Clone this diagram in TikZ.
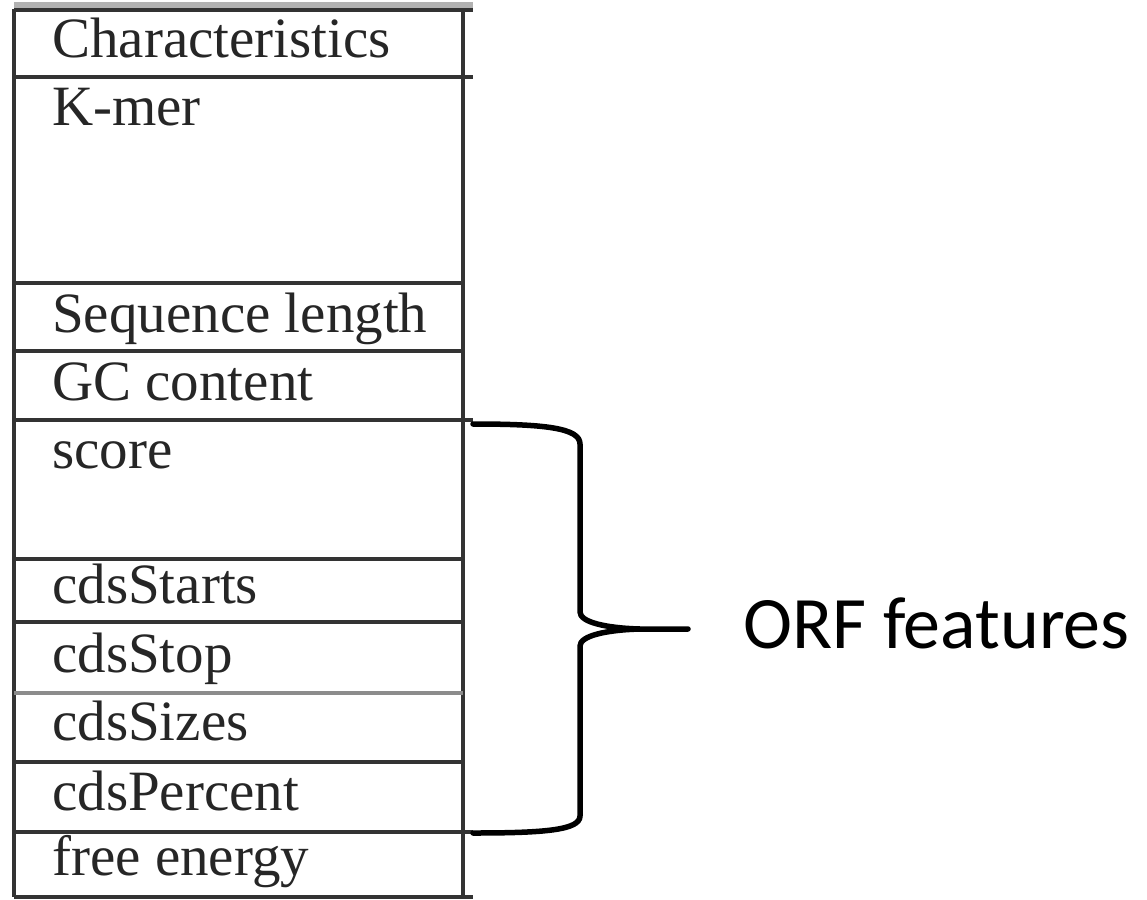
\documentclass[tikz,border=0pt]{standalone}
\usepackage{fontspec}
\setmainfont{Liberation Serif}
\newfontfamily\labelfont{Carlito}
\begin{document}
\begin{tikzpicture}[x=1pt,y=-1pt,
  rule/.style={line width=3.2pt, black!80},
  softrule/.style={line width=4.5pt, black!45},
  cell/.style={anchor=base west, inner sep=0pt, font=\fontsize{57}{68}\selectfont, text=black!85},
  bracepath/.style={line width=5.5pt, line cap=round, line join=round, black}]
\useasboundingbox (0,0) rectangle (1147,899);

% table frame
\draw[line width=6pt, black!30] (14,5) -- (473,5);
\draw[rule] (14,10) -- (473,10);
\draw[rule] (14,9) -- (14,897);
\draw[rule] (463,9) -- (463,897);

% row separators
\draw[rule] (14,77) -- (473,77);
\draw[rule] (14,283) -- (463,283);
\draw[rule] (14,351) -- (463,351);
\draw[rule] (14,420) -- (473,420);
\draw[rule] (14,559) -- (463,559);
\draw[rule] (14,622) -- (463,622);
\draw[softrule] (14,693) -- (463,693);
\draw[rule] (14,762) -- (463,762);
\draw[rule] (14,832) -- (473,832);
\draw[rule] (14,897) -- (473,897);

% row labels
\node[cell] (c0) at (52,57)  {Characteristics};
\node[cell] (c1) at (52,125) {K-mer};
\node[cell] (c2) at (52,332) {Sequence length};
\node[cell] (c3) at (52,400) {GC content};
\node[cell] (c4) at (52,468) {score};
\node[cell] (c5) at (52,603) {cdsStarts};
\node[cell] (c6) at (52,672) {cdsStop};
\node[cell] (c7) at (52,740) {cdsSizes};
\node[cell] (c8) at (52,810) {cdsPercent};
\node[cell] (c9) at (52,875) {free energy};

% brace grouping the ORF rows
\coordinate (btop) at (473,424);
\coordinate (bbot) at (473,833);
\coordinate (btip) at (688,629);
\draw[bracepath] (btop) .. controls (545,424) and (580,428) .. (580,444)
  -- (580,612) .. controls (580,622) and (605,628) .. (640,629) -- (btip)
  (btip) -- (640,629) .. controls (605,630) and (580,636) .. (580,646)
  -- (580,816) .. controls (580,830) and (545,833) .. (bbot);

\node[anchor=base west, inner sep=0pt, font=\labelfont\fontsize{74}{88}\selectfont] (orf) at (743,648) {ORF features};
\end{tikzpicture}
\end{document}
